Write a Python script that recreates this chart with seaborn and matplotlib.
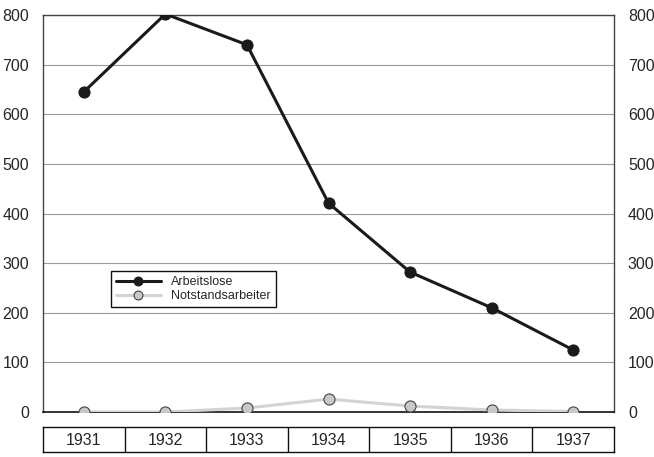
import pandas as pd
import numpy as np
import matplotlib.pyplot as plt
import seaborn as sns

# data
years = ["1931", "1932", "1933", "1934", "1935", "1936", "1937"]
arbeitslose = [645, 802, 740, 421, 282, 210, 125]
notstand = [0, 0, 8, 26, 12, 4, 1]

sns.set_style("white")
plt.rcParams["font.family"] = ["Liberation Sans", "DejaVu Sans"]

df = pd.DataFrame({
    "pos": list(range(len(years))) * 2,
    "wert": arbeitslose + notstand,
    "serie": ["Arbeitslose"] * len(years) + ["Notstandsarbeiter"] * len(years),
})

fig = plt.figure(figsize=(6.54, 4.57), dpi=100)
ax = fig.add_axes([43 / 654, 45 / 457, 571 / 654, 397 / 457])

#lines
sns.lineplot(data=df[df.serie == "Notstandsarbeiter"], x="pos", y="wert", ax=ax,
             color="#d3d3d3", lw=2.2, marker="o", markersize=8,
             markerfacecolor="#c8c8c8", markeredgecolor="#444444", markeredgewidth=0.8,
             label="Notstandsarbeiter", zorder=3)
sns.lineplot(data=df[df.serie == "Arbeitslose"], x="pos", y="wert", ax=ax,
             color="#1a1a1a", lw=2.2, marker="o", markersize=8,
             markerfacecolor="#1a1a1a", markeredgecolor="#1a1a1a",
             label="Arbeitslose", zorder=4)

ax.set_xlim(-0.5, len(years) - 0.5)
ax.set_ylim(0, 800)
ax.set_yticks(range(0, 801, 100))
ax.yaxis.grid(True, color="#9a9a9a", lw=0.8)
ax.set_axisbelow(True)
ax.set_xlabel("")
ax.set_ylabel("")
ax.set_xticks([])
ax.set_xticks(np.arange(0.5, len(years) - 1, 1), minor=True)
ax.tick_params(axis="x", which="minor", direction="in", length=8, color="#bbbbbb", width=0.8)
ax.tick_params(axis="y", length=0, labelsize=11.5, pad=10,
               left=True, right=True, labelleft=True, labelright=True)
for s in ["left", "top", "right"]:
    ax.spines[s].set_color("#444444")
    ax.spines[s].set_linewidth(1)
ax.spines["bottom"].set_color("#111111")
ax.spines["bottom"].set_linewidth(1.2)

h, l = ax.get_legend_handles_labels()
leg = ax.legend(h[::-1], l[::-1], loc="upper left", bbox_to_anchor=(0.108, 0.37),
                fontsize=9, frameon=True, fancybox=False, framealpha=1,
                edgecolor="#111111", handlelength=3.6, borderpad=0.4,
                labelspacing=0.15, handletextpad=0.8, markerscale=0.8)
leg.get_frame().set_linewidth(1)

#year table below
tab = fig.add_axes([43 / 654, 5 / 457, 571 / 654, 25 / 457])
tab.set_xlim(-0.5, len(years) - 0.5)
tab.set_ylim(0, 1)
for i, y in enumerate(years):
    tab.text(i, 0.47, y, ha="center", va="center", fontsize=11.5)
tab.vlines(np.arange(0.5, len(years) - 1, 1), 0, 1, color="#111111", lw=1)
tab.set_xticks([])
tab.set_yticks([])
for s in tab.spines.values():
    s.set_color("#111111")
    s.set_linewidth(1)

plt.savefig("out.png", dpi=100)
